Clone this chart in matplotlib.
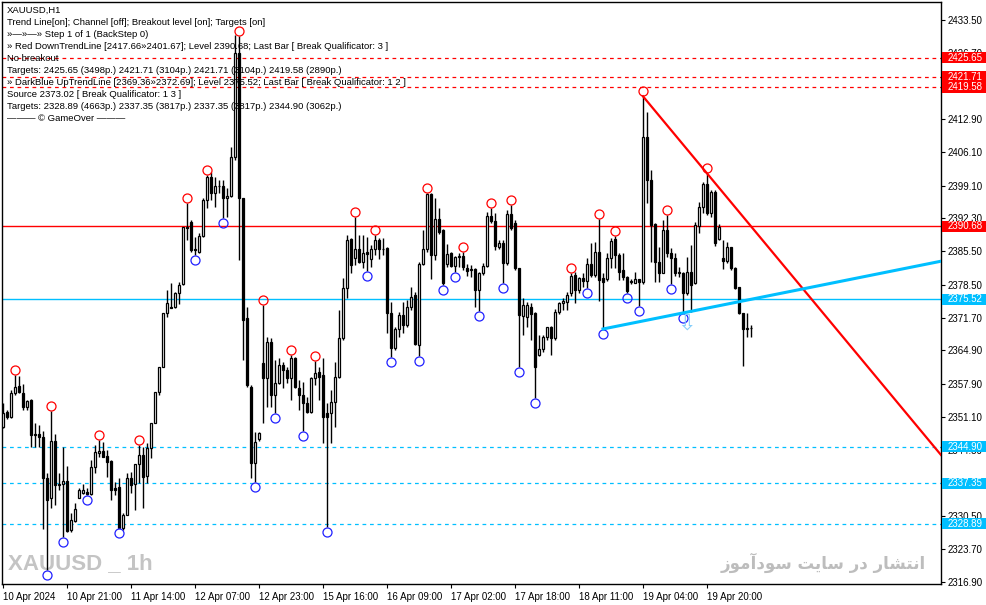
import matplotlib
matplotlib.use("Agg")
import matplotlib.pyplot as plt
import numpy as np
from matplotlib.patches import Rectangle
from matplotlib.transforms import offset_copy

plt.rcParams["font.family"] = ["Liberation Sans", "DejaVu Sans"]

# XAUUSD H1 candles (oldest first)
opens = [
    2349.07, 2352.05, 2351.15, 2355.99, 2357.51, 2355.99, 2353.22, 2354.61, 2347.55, 2347.55,
    2347.00, 2338.34, 2334.19, 2346.09, 2336.96, 2337.10, 2337.79, 2327.62, 2329.56, 2334.19,
    2335.37, 2335.58, 2335.02, 2340.77, 2343.67, 2344.02, 2343.05, 2341.94, 2336.41, 2336.48,
    2328.10, 2330.73, 2338.34, 2337.10, 2341.32, 2343.19, 2338.90, 2344.57, 2349.76, 2356.20,
    2361.39, 2372.74, 2373.98, 2373.84, 2376.75, 2378.62, 2390.59, 2391.63, 2385.89, 2385.41,
    2388.66, 2396.13, 2400.98, 2397.65, 2399.11, 2399.11, 2396.48, 2396.96, 2405.13, 2426.58,
    2396.48, 2371.57, 2357.38, 2341.46, 2346.45, 2362.22, 2359.11, 2366.72, 2355.65, 2358.07,
    2361.88, 2360.84, 2359.11, 2363.26, 2357.03, 2355.65, 2354.06, 2352.19, 2359.11, 2360.49,
    2359.80, 2351.98, 2351.98, 2354.27, 2359.46, 2367.41, 2377.79, 2387.97, 2384.02, 2385.89,
    2383.33, 2385.27, 2383.81, 2385.89, 2387.83, 2386.03, 2386.10, 2372.74, 2365.34, 2369.28,
    2372.26, 2370.18, 2373.99, 2376.41, 2366.03, 2382.85, 2385.89, 2397.38, 2384.71, 2392.12,
    2389.90, 2382.85, 2385.06, 2382.43, 2384.23, 2384.51, 2381.95, 2381.81, 2381.74, 2377.45,
    2380.91, 2382.43, 2392.81, 2391.84, 2386.31, 2387.27, 2383.12, 2393.23, 2391.29, 2381.95,
    2372.05, 2371.91, 2373.85, 2372.74, 2363.96, 2365.13, 2367.62, 2369.70, 2367.41, 2372.95,
    2374.82, 2375.02, 2376.75, 2380.56, 2377.44, 2379.87, 2379.38, 2382.84, 2380.56, 2385.26,
    2379.87, 2379.66, 2384.02, 2387.96, 2384.71, 2381.59, 2380.07, 2379.04, 2378.97, 2379.66,
    2379.17, 2409.14, 2400.28, 2391.14, 2383.33, 2381.04, 2389.90, 2385.19, 2384.02, 2380.90,
    2381.04, 2376.75, 2381.25, 2378.83, 2390.73, 2394.61, 2399.45, 2393.50, 2397.86, 2387.96,
    2384.02, 2383.53, 2386.30, 2381.94, 2378.00, 2372.60, 2369.28, 2369.49,
]
highs = [
    2354.05, 2352.53, 2356.68, 2359.80, 2359.59, 2357.93, 2354.61, 2354.74, 2349.76, 2349.42,
    2348.24, 2339.38, 2352.39, 2347.55, 2339.38, 2344.92, 2340.90, 2331.22, 2333.15, 2336.27,
    2337.17, 2336.27, 2342.15, 2345.26, 2346.30, 2345.96, 2344.23, 2342.15, 2337.65, 2338.48,
    2331.08, 2339.38, 2339.73, 2339.73, 2345.26, 2344.92, 2345.61, 2349.76, 2356.34, 2361.53,
    2372.60, 2377.44, 2378.83, 2377.10, 2379.17, 2390.59, 2395.43, 2391.98, 2388.52, 2389.21,
    2396.48, 2401.32, 2402.01, 2400.98, 2400.28, 2400.28, 2398.55, 2407.20, 2430.39, 2430.20,
    2396.48, 2373.99, 2357.73, 2348.04, 2348.04, 2374.33, 2367.76, 2367.41, 2362.92, 2363.26,
    2362.57, 2361.53, 2363.95, 2363.61, 2358.76, 2358.42, 2355.30, 2359.46, 2362.78, 2361.53,
    2363.26, 2353.92, 2356.69, 2362.57, 2373.30, 2379.87, 2388.87, 2388.17, 2392.53, 2388.87,
    2388.87, 2388.52, 2386.79, 2388.87, 2388.17, 2388.17, 2386.31, 2375.03, 2369.84, 2372.95,
    2375.03, 2375.37, 2378.14, 2377.10, 2383.33, 2389.90, 2397.65, 2397.52, 2396.48, 2394.40,
    2390.04, 2387.00, 2385.41, 2384.51, 2385.06, 2385.41, 2382.85, 2382.64, 2381.95, 2381.25,
    2382.98, 2393.71, 2394.40, 2393.36, 2387.83, 2387.83, 2394.06, 2395.09, 2391.98, 2382.08,
    2375.72, 2375.03, 2374.82, 2372.95, 2368.11, 2368.11, 2369.84, 2369.97, 2373.43, 2375.03,
    2375.71, 2377.10, 2380.90, 2381.25, 2380.21, 2380.90, 2384.02, 2387.27, 2387.48, 2392.11,
    2380.90, 2385.06, 2388.17, 2388.65, 2385.06, 2385.06, 2380.35, 2379.66, 2381.25, 2379.80,
    2417.66, 2414.47, 2402.36, 2391.42, 2386.44, 2391.98, 2393.01, 2386.09, 2385.06, 2382.29,
    2381.25, 2384.37, 2386.79, 2391.63, 2395.78, 2399.93, 2401.67, 2398.20, 2398.20, 2391.14,
    2387.82, 2387.48, 2386.44, 2382.29, 2378.14, 2372.74, 2372.60, 2370.18,
]
lows = [
    2348.72, 2350.59, 2350.80, 2355.64, 2355.99, 2352.53, 2352.53, 2344.92, 2344.92, 2344.92,
    2327.76, 2319.31, 2332.12, 2332.81, 2335.92, 2326.23, 2327.27, 2327.27, 2329.35, 2334.19,
    2335.02, 2334.88, 2334.88, 2339.38, 2342.84, 2342.84, 2338.69, 2333.85, 2334.88, 2327.96,
    2327.62, 2330.73, 2335.23, 2331.77, 2337.44, 2332.25, 2337.44, 2342.50, 2349.76, 2355.64,
    2361.39, 2371.77, 2373.64, 2373.64, 2374.54, 2378.48, 2387.82, 2385.41, 2384.71, 2385.06,
    2388.52, 2394.40, 2396.13, 2394.75, 2397.52, 2392.33, 2392.67, 2396.82, 2404.44, 2383.68,
    2362.92, 2357.38, 2338.35, 2337.66, 2346.17, 2349.77, 2353.23, 2353.23, 2351.84, 2357.93,
    2357.03, 2358.07, 2354.61, 2357.03, 2352.54, 2348.25, 2351.84, 2351.98, 2357.73, 2354.61,
    2345.62, 2328.32, 2345.62, 2349.08, 2359.11, 2367.07, 2375.72, 2380.91, 2382.64, 2382.98,
    2381.95, 2381.46, 2382.29, 2384.71, 2383.81, 2384.71, 2368.45, 2363.61, 2364.99, 2367.76,
    2368.45, 2369.84, 2373.30, 2366.03, 2363.82, 2382.64, 2385.41, 2379.66, 2383.68, 2389.07,
    2378.49, 2382.29, 2382.15, 2381.25, 2382.29, 2381.60, 2380.36, 2380.22, 2373.99, 2373.16,
    2380.56, 2382.29, 2391.29, 2385.75, 2385.89, 2378.83, 2382.64, 2389.90, 2381.60, 2361.53,
    2368.11, 2369.84, 2367.07, 2354.96, 2363.75, 2364.65, 2367.07, 2363.96, 2367.07, 2372.47,
    2373.29, 2373.29, 2376.20, 2374.82, 2376.75, 2378.14, 2377.79, 2380.21, 2380.21, 2375.23,
    2369.36, 2379.38, 2381.94, 2381.94, 2379.52, 2379.52, 2376.89, 2378.69, 2378.83, 2374.12,
    2378.69, 2395.44, 2383.33, 2379.17, 2379.17, 2380.90, 2384.37, 2378.69, 2380.35, 2380.21,
    2372.69, 2376.41, 2372.95, 2378.69, 2389.21, 2393.36, 2393.01, 2392.67, 2386.58, 2387.82,
    2381.73, 2382.98, 2381.59, 2377.58, 2372.46, 2361.67, 2367.76, 2367.62,
]
closes = [
    2351.84, 2351.15, 2355.99, 2357.24, 2356.20, 2353.08, 2354.40, 2347.34, 2347.27, 2346.86,
    2338.34, 2333.85, 2346.09, 2336.96, 2337.17, 2337.79, 2327.48, 2329.70, 2331.91, 2335.92,
    2335.92, 2335.02, 2340.77, 2343.74, 2344.09, 2342.84, 2341.80, 2335.92, 2335.92, 2328.10,
    2330.73, 2338.34, 2336.96, 2341.32, 2343.19, 2338.69, 2344.57, 2349.76, 2356.20, 2361.39,
    2372.60, 2374.67, 2373.64, 2376.75, 2378.48, 2390.59, 2390.24, 2385.75, 2385.75, 2388.66,
    2396.13, 2400.98, 2397.65, 2399.04, 2399.11, 2396.48, 2396.96, 2405.13, 2426.58, 2396.48,
    2371.22, 2357.73, 2341.46, 2345.96, 2347.69, 2359.11, 2366.72, 2355.65, 2358.07, 2361.88,
    2360.84, 2359.11, 2363.26, 2357.38, 2355.65, 2353.92, 2352.19, 2359.11, 2360.29, 2359.46,
    2351.15, 2351.15, 2354.27, 2359.46, 2367.41, 2377.79, 2387.83, 2382.64, 2385.89, 2383.33,
    2385.06, 2384.92, 2385.89, 2387.83, 2385.89, 2386.03, 2372.74, 2365.34, 2369.28, 2372.26,
    2370.18, 2373.99, 2376.07, 2366.24, 2382.85, 2385.89, 2397.38, 2384.71, 2392.12, 2389.56,
    2378.83, 2384.92, 2382.43, 2384.23, 2384.51, 2382.15, 2381.46, 2381.60, 2377.45, 2380.91,
    2382.43, 2392.81, 2391.84, 2386.58, 2387.27, 2383.12, 2393.23, 2390.25, 2381.95, 2372.26,
    2374.33, 2374.33, 2372.47, 2361.39, 2365.13, 2367.76, 2369.70, 2367.41, 2372.95, 2374.68,
    2375.23, 2376.41, 2380.42, 2377.44, 2379.87, 2379.38, 2382.84, 2380.56, 2385.26, 2379.52,
    2379.17, 2384.02, 2387.69, 2384.71, 2381.25, 2380.07, 2377.31, 2379.31, 2379.66, 2379.17,
    2409.14, 2400.28, 2390.94, 2383.33, 2381.04, 2389.90, 2385.19, 2384.02, 2380.90, 2381.11,
    2376.75, 2381.25, 2378.48, 2390.94, 2394.61, 2399.45, 2393.50, 2397.86, 2387.27, 2390.59,
    2383.53, 2386.30, 2381.94, 2377.79, 2372.60, 2369.28, 2369.49, 2369.63,
]

# swing points marked with circles (bar numbers, 1-based)
swing_high_bars = [4, 13, 25, 35, 47, 52, 60, 66, 73, 79, 89, 94, 107, 116, 123, 128,
                   143, 150, 154, 161, 167, 177]
swing_low_bars = [12, 16, 22, 30, 49, 56, 64, 69, 76, 82, 92, 98, 105, 111, 114, 120,
                  126, 130, 134, 147, 151, 157, 160, 168, 171]

# levels
red_level = 2390.68
blue_level = 2375.52
red_targets = [2425.65, 2421.71, 2419.58]
blue_targets = [2344.90, 2337.35, 2328.89]
down_line = (161, 2417.66, 177, 2401.67)
up_line = (151, 2369.36, 171, 2372.69)

price_ticks = [2433.50, 2426.70, 2419.90, 2412.90, 2406.10, 2399.10, 2392.30, 2385.50,
               2378.50, 2371.70, 2364.90, 2357.90, 2351.10, 2344.30, 2337.50, 2330.50,
               2323.70, 2316.90]
time_labels = ["10 Apr 2024", "10 Apr 21:00", "11 Apr 14:00", "12 Apr 07:00",
               "12 Apr 23:00", "15 Apr 16:00", "16 Apr 09:00", "17 Apr 02:00",
               "17 Apr 18:00", "18 Apr 11:00", "19 Apr 04:00", "19 Apr 20:00"]

info_lines = [
    "XAUUSD,H1",
    "Trend Line[on]; Channel [off]; Breakout level [on]; Targets [on]",
    "»—»—» Step 1 of 1 (BackStep 0)",
    "» Red DownTrendLine [2417.66»2401.67]; Level 2390.68; Last Bar [ Break Qualificator: 3 ]",
    "No breakout",
    "Targets: 2425.65 (3498p.) 2421.71 (3104p.) 2421.71 (3104p.) 2419.58 (2890p.)",
    "» DarkBlue UpTrendLine [2369.36»2372.69]; Level 2375.52; Last Bar [ Break Qualificator: 1 2 ]",
    "Source 2373.02 [ Break Qualificator: 1 3 ]",
    "Targets: 2328.89 (4663p.) 2337.35 (3817p.) 2337.35 (3817p.) 2344.90 (3062p.)",
    "——— © GameOver ———",
]

RED = "#FF0000"
SKY = "#00BFFF"

W, H = 987, 605
fig = plt.figure(figsize=(W / 100, H / 100), dpi=100)
ax = fig.add_axes([2 / W, 21 / H, 939 / W, 582 / H])

o = np.array(opens)
h = np.array(highs)
l = np.array(lows)
c = np.array(closes)
x = np.arange(len(o))

# candles
ax.vlines(x, l, h, color="black", lw=1, zorder=3)
bull = c >= o
ax.bar(x[bull], (c - o)[bull], bottom=o[bull], width=0.7, color="white",
       edgecolor="black", linewidth=0.9, zorder=4)
ax.bar(x[~bull], (o - c)[~bull], bottom=c[~bull], width=0.7, color="black",
       edgecolor="black", linewidth=0.9, zorder=4)

# swing circles
hi_idx = np.array(swing_high_bars) - 1
lo_idx = np.array(swing_low_bars) - 1
ax.plot(hi_idx, h[hi_idx], "o", ms=6.5, mfc="none", mec=RED, mew=0.9, zorder=5,
        transform=offset_copy(ax.transData, fig, x=0, y=5, units="dots"))
ax.plot(lo_idx, l[lo_idx], "o", ms=6.5, mfc="none", mec="#2020FF", mew=0.9, zorder=5,
        transform=offset_copy(ax.transData, fig, x=0, y=-5, units="dots"))

xmax = 234.5

# horizontal levels
ax.axhline(red_level, color=RED, lw=1, zorder=2)
ax.axhline(blue_level, color=SKY, lw=1, zorder=2)
for v in red_targets:
    ax.axhline(v, color=RED, lw=0.9, ls=(0, (3, 3)), zorder=2)
for v in blue_targets:
    ax.axhline(v, color=SKY, lw=0.9, ls=(0, (3, 3)), zorder=2)

# trend lines
b1, p1, b2, p2 = down_line
slope = (p2 - p1) / (b2 - b1)
ax.plot([b1 - 1, xmax], [p1, p1 + slope * (xmax - b1 + 1)], color=RED, lw=1.6, zorder=6)
b1, p1, b2, p2 = up_line
slope = (p2 - p1) / (b2 - b1)
ax.plot([b1 - 1, xmax], [p1, p1 + slope * (xmax - b1 + 1)], color=SKY, lw=2.2, zorder=6)

# breakout arrow
ax.text(171, 2370.4, "⇩", color="#87CEFA", fontsize=16, ha="center", va="center",
        family="DejaVu Sans", zorder=6)

ax.set_xlim(-0.25, xmax)
ax.set_ylim(2316.42, 2437.24)

# axes styling
for s in ax.spines.values():
    s.set_color("black")
    s.set_linewidth(1)
ax.yaxis.tick_right()
ax.set_yticks(price_ticks)
ax.set_yticklabels([f"{v:.2f}" for v in price_ticks])
ax.tick_params(axis="y", length=3, width=0.8, pad=2, labelsize=7)
ax.set_xticks(np.arange(len(time_labels)) * 16)
ax.set_xticklabels(time_labels, ha="left")
ax.tick_params(axis="x", length=3, width=0.8, pad=3, labelsize=7)

# price labels on the right
ytrans = ax.get_yaxis_transform()
box_h = 11 / 4.817
for v, col in [(v, RED) for v in red_targets + [red_level]] + \
              [(v, SKY) for v in blue_targets + [blue_level]]:
    ax.add_patch(Rectangle((1.001, v - box_h / 2), 0.05, box_h, transform=ytrans,
                           facecolor=col, edgecolor="none", clip_on=False, zorder=8))
    ax.text(1.0065, v, f"{v:.2f}", transform=ytrans, color="white", fontsize=7,
            ha="left", va="center", clip_on=False, zorder=9)

# info text
for i, line in enumerate(info_lines):
    fig.text(7 / W, 1 - (10 + 12.1 * i) / H, line, fontsize=6.8, ha="left",
             va="center", color="black", zorder=1)

# watermarks
ax.text(6 / 939, 1 - (564 - 2) / 582, "XAUUSD _ 1h", transform=ax.transAxes,
        fontsize=16, fontweight="bold", color="#C4C4C4", ha="left", va="center",
        zorder=1)
ax.text(924 / 939, 1 - (563 - 2) / 582,
        "ﺯﻮﻣﺁﺩﻮﺳ ﺖﻳﺎﺳ ﺭﺩ ﺭﺎﺸﺘﻧﺍ", transform=ax.transAxes, family="DejaVu Sans",
        fontsize=12, fontweight="bold", color="#BDBDBD", ha="right", va="center",
        zorder=1)

fig.savefig("out.png", dpi=100)
